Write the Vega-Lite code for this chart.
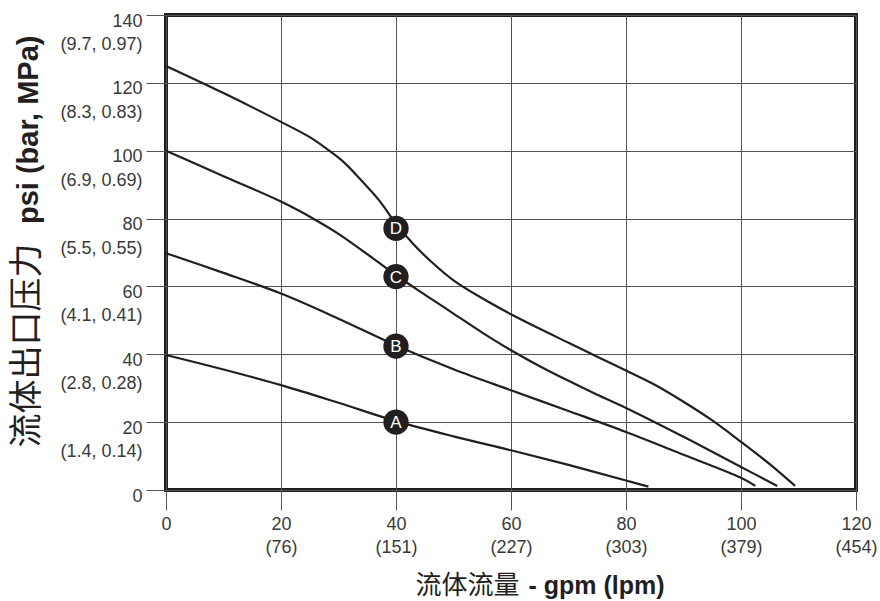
{
  "$schema": "https://vega.github.io/schema/vega-lite/v6.json",
  "width": 690,
  "height": 475,
  "autosize": {"type": "none"},
  "padding": {"left": 166, "top": 15, "right": 24, "bottom": 111},
  "background": "white",
  "config": {
    "view": {"stroke": "#231f20", "strokeWidth": 4},
    "font": "Liberation Sans"
  },
  "datasets": {
    "curves": [
      {"curve": "D", "gpm": 0, "psi": 125},
      {"curve": "D", "gpm": 10, "psi": 117},
      {"curve": "D", "gpm": 20, "psi": 108.5},
      {"curve": "D", "gpm": 25, "psi": 104},
      {"curve": "D", "gpm": 28, "psi": 100.5},
      {"curve": "D", "gpm": 31, "psi": 96.5},
      {"curve": "D", "gpm": 34, "psi": 91.2},
      {"curve": "D", "gpm": 37, "psi": 85.5},
      {"curve": "D", "gpm": 40, "psi": 78.5},
      {"curve": "D", "gpm": 43, "psi": 72.5},
      {"curve": "D", "gpm": 46, "psi": 67.5},
      {"curve": "D", "gpm": 50, "psi": 61.8},
      {"curve": "D", "gpm": 55, "psi": 56.5},
      {"curve": "D", "gpm": 60, "psi": 51.8},
      {"curve": "D", "gpm": 65, "psi": 47.5},
      {"curve": "D", "gpm": 70, "psi": 43.4},
      {"curve": "D", "gpm": 75, "psi": 39.3},
      {"curve": "D", "gpm": 80, "psi": 35.2},
      {"curve": "D", "gpm": 85, "psi": 31},
      {"curve": "D", "gpm": 90, "psi": 26},
      {"curve": "D", "gpm": 95, "psi": 20.5},
      {"curve": "D", "gpm": 100, "psi": 14.2},
      {"curve": "D", "gpm": 105, "psi": 7.6},
      {"curve": "D", "gpm": 109.4, "psi": 1.2},
      {"curve": "C", "gpm": 0, "psi": 100},
      {"curve": "C", "gpm": 10, "psi": 92.5},
      {"curve": "C", "gpm": 20, "psi": 85},
      {"curve": "C", "gpm": 26, "psi": 79.6},
      {"curve": "C", "gpm": 30, "psi": 75.5},
      {"curve": "C", "gpm": 35, "psi": 69.5},
      {"curve": "C", "gpm": 40, "psi": 63.3},
      {"curve": "C", "gpm": 45, "psi": 57.6},
      {"curve": "C", "gpm": 50, "psi": 52},
      {"curve": "C", "gpm": 55, "psi": 46.4},
      {"curve": "C", "gpm": 60, "psi": 41.2},
      {"curve": "C", "gpm": 65, "psi": 36.5},
      {"curve": "C", "gpm": 70, "psi": 32.2},
      {"curve": "C", "gpm": 75, "psi": 28.1},
      {"curve": "C", "gpm": 80, "psi": 24.2},
      {"curve": "C", "gpm": 90, "psi": 15.7},
      {"curve": "C", "gpm": 100, "psi": 6.8},
      {"curve": "C", "gpm": 106.3, "psi": 1.2},
      {"curve": "B", "gpm": 0, "psi": 69.8},
      {"curve": "B", "gpm": 10, "psi": 64},
      {"curve": "B", "gpm": 20, "psi": 57.9},
      {"curve": "B", "gpm": 30, "psi": 50.5},
      {"curve": "B", "gpm": 40, "psi": 42.6},
      {"curve": "B", "gpm": 50, "psi": 35.6},
      {"curve": "B", "gpm": 60, "psi": 29.4},
      {"curve": "B", "gpm": 70, "psi": 23.3},
      {"curve": "B", "gpm": 80, "psi": 17.1},
      {"curve": "B", "gpm": 90, "psi": 10.4},
      {"curve": "B", "gpm": 100, "psi": 3.6},
      {"curve": "B", "gpm": 102.5, "psi": 1.2},
      {"curve": "A", "gpm": 0, "psi": 39.8},
      {"curve": "A", "gpm": 10, "psi": 35.5},
      {"curve": "A", "gpm": 20, "psi": 30.9},
      {"curve": "A", "gpm": 30, "psi": 25.7},
      {"curve": "A", "gpm": 40, "psi": 20.3},
      {"curve": "A", "gpm": 50, "psi": 15.8},
      {"curve": "A", "gpm": 60, "psi": 11.7},
      {"curve": "A", "gpm": 70, "psi": 7.4},
      {"curve": "A", "gpm": 80, "psi": 2.8},
      {"curve": "A", "gpm": 83.9, "psi": 1.0}
    ],
    "markers": [
      {"curve": "A", "gpm": 40, "psi": 20},
      {"curve": "B", "gpm": 40, "psi": 42.4},
      {"curve": "C", "gpm": 40, "psi": 62.9},
      {"curve": "D", "gpm": 40, "psi": 77.1}
    ]
  },
  "layer": [
    {
      "data": {"name": "curves"},
      "mark": {"type": "line", "interpolate": "catmull-rom", "stroke": "#231f20", "strokeWidth": 2.2},
      "encoding": {
        "x": {
          "field": "gpm", "type": "quantitative",
          "scale": {"domain": [0, 120], "nice": false, "zero": false},
          "axis": {
            "orient": "bottom",
            "values": [0, 20, 40, 60, 80, 100, 120],
            "domain": false,
            "grid": true, "gridColor": "#555555", "gridWidth": 1, "gridOpacity": 1,
            "ticks": true, "tickSize": 20, "tickColor": "#555555", "tickWidth": 1,
            "labelFont": "Liberation Sans", "labelFontSize": 18, "labelColor": "#3a3a3a",
            "labelBaseline": "top", "labelPadding": 5, "labelLineHeight": 23.5,
            "labelFlush": false, "labelOverlap": false,
            "labelExpr": "datum.value == 0 ? '0' : [datum.label, datum.value == 20 ? '(76)' : datum.value == 40 ? '(151)' : datum.value == 60 ? '(227)' : datum.value == 80 ? '(303)' : datum.value == 100 ? '(379)' : '(454)']",
            "title": "流体流量",
            "titleFont": "Noto Sans CJK SC", "titleFontSize": 26, "titleFontWeight": "normal", "titleColor": "#231f20",
            "titleAlign": "right", "titleBaseline": "alphabetic", "titleX": 353, "titleY": 103, "titleAnchor": null
          }
        },
        "y": {
          "field": "psi", "type": "quantitative",
          "scale": {"domain": [0, 140], "nice": false, "zero": false},
          "axis": {
            "orient": "left",
            "values": [0, 20, 40, 60, 80, 100, 120, 140],
            "domain": false,
            "grid": true, "gridColor": "#555555", "gridWidth": 1, "gridOpacity": 1,
            "ticks": true, "tickSize": 20, "tickColor": "#555555", "tickWidth": 1,
            "labelFont": "Liberation Sans", "labelFontSize": 18, "labelColor": "#3a3a3a",
            "labelBaseline": "top", "labelOffset": -3, "labelPadding": 4, "labelLineHeight": 23.5,
            "labelAlign": "right", "labelFlush": false, "labelOverlap": false,
            "labelExpr": "datum.value == 0 ? '0' : [datum.label, datum.value == 140 ? '(9.7, 0.97)' : datum.value == 120 ? '(8.3, 0.83)' : datum.value == 100 ? '(6.9, 0.69)' : datum.value == 80 ? '(5.5, 0.55)' : datum.value == 60 ? '(4.1, 0.41)' : datum.value == 40 ? '(2.8, 0.28)' : '(1.4, 0.14)']",
            "title": "流体出口压力",
            "titleFont": "Noto Sans CJK SC", "titleFontSize": 34, "titleFontWeight": "normal", "titleColor": "#231f20",
            "titleAngle": 270, "titleAlign": "left", "titleBaseline": "alphabetic", "titleX": -129, "titleY": 432, "titleAnchor": null
          }
        },
        "detail": {"field": "curve"}
      }
    },
    {
      "data": {"name": "markers"},
      "mark": {"type": "point", "shape": "circle", "filled": true, "fill": "#231f20", "opacity": 1, "size": 640, "strokeWidth": 0},
      "encoding": {
        "x": {
          "field": "gpm", "type": "quantitative",
          "scale": {"domain": [0, 120], "nice": false, "zero": false},
          "axis": {
            "orient": "bottom", "domain": false, "grid": false, "ticks": false, "labels": false,
            "title": "- gpm (lpm)",
            "titleFont": "Liberation Sans", "titleFontSize": 25, "titleFontWeight": "bold", "titleColor": "#231f20",
            "titleAlign": "left", "titleBaseline": "alphabetic", "titleX": 362, "titleY": 103, "titleAnchor": null
          }
        },
        "y": {
          "field": "psi", "type": "quantitative",
          "scale": {"domain": [0, 140], "nice": false, "zero": false},
          "axis": {
            "orient": "left", "domain": false, "grid": false, "ticks": false, "labels": false,
            "title": "psi (bar, MPa)",
            "titleFont": "Liberation Sans", "titleFontSize": 29, "titleFontWeight": "bold", "titleColor": "#231f20",
            "titleAngle": 270, "titleAlign": "right", "titleBaseline": "alphabetic", "titleX": -129, "titleY": 20, "titleAnchor": null
          }
        }
      }
    },
    {
      "data": {"name": "markers"},
      "mark": {"type": "text", "color": "white", "font": "Liberation Sans", "fontSize": 17, "baseline": "middle", "align": "center", "dy": 1},
      "encoding": {
        "x": {"field": "gpm", "type": "quantitative", "axis": null},
        "y": {"field": "psi", "type": "quantitative", "axis": null},
        "text": {"field": "curve"}
      }
    }
  ],
  "resolve": {"axis": {"x": "independent", "y": "independent"}}
}
